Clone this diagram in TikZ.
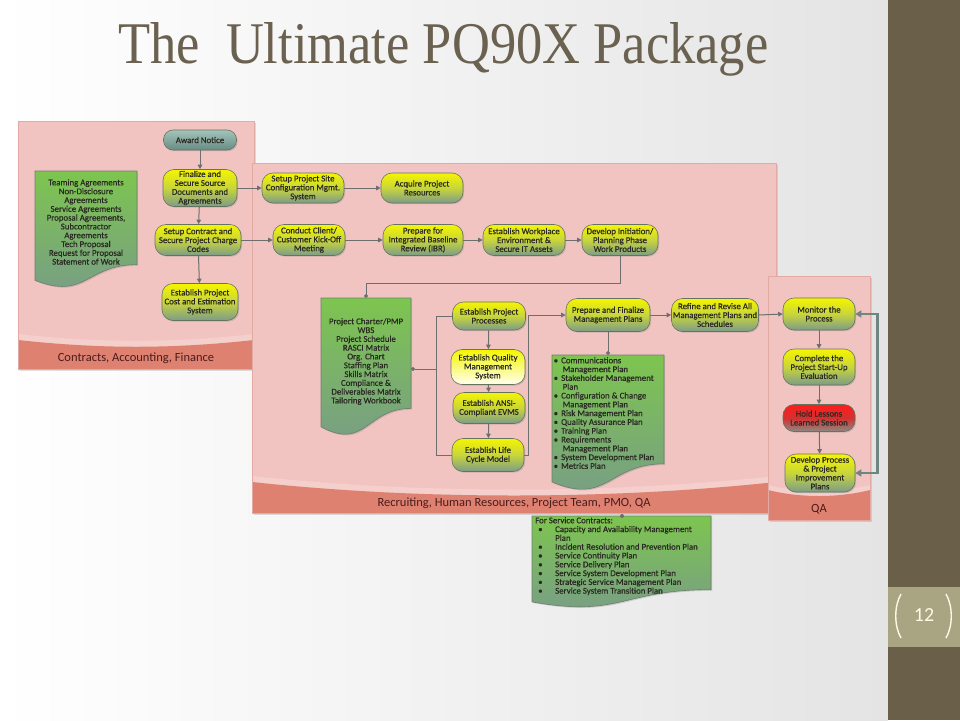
\documentclass[tikz,border=0pt]{standalone}
\usepackage{graphicx}
\usepackage{fontspec}
\setmainfont{Carlito}
\newfontfamily\nodefont{Carlito}[FakeBold=0.6]
\newfontfamily\titlefont{Liberation Serif}
\usetikzlibrary{arrows.meta,shadows}
\definecolor{bgR}{HTML}{E4E4E4}
\definecolor{side}{HTML}{6A5F48}
\definecolor{khaki}{HTML}{A9A583}
\definecolor{cream}{HTML}{FFF9E3}
\definecolor{titlec}{HTML}{6B6150}
\definecolor{panelc}{HTML}{F1C4C1}
\definecolor{panelbd}{HTML}{E2AAA5}
\definecolor{panellt}{HTML}{F4CFCB}
\definecolor{bandc}{HTML}{DE8171}
\definecolor{bandtxt}{HTML}{4A1C1C}
\definecolor{ytop}{HTML}{F5F500}
\definecolor{ymid}{HTML}{C8D53C}
\definecolor{ybot}{HTML}{7C9C88}
\definecolor{qbot}{HTML}{FFFFF2}
\definecolor{awt}{HTML}{A3C4BA}
\definecolor{awb}{HTML}{6A8B84}
\definecolor{rtop}{HTML}{FF1C1C}
\definecolor{rmid}{HTML}{D43030}
\definecolor{rbot}{HTML}{8A8A84}
\definecolor{nodebd}{HTML}{65735F}
\definecolor{gtop}{HTML}{7DC54F}
\definecolor{gbot}{HTML}{789C88}
\definecolor{docbd}{HTML}{6C7F6C}
\definecolor{linec}{HTML}{6E6E6E}
\definecolor{loopc}{HTML}{6E8580}
\definecolor{txt}{HTML}{2A2A22}
\newcommand\bitem[1]{\makebox[7.5pt][l]{\textbullet}#1}
\newcommand\bcont[1]{\hspace*{9pt}#1}
\newcommand\sitem[1]{\makebox[20pt][l]{\hspace*{3pt}\textbullet}#1}
\newcommand\scont[1]{\hspace*{20pt}#1}
\begin{document}
\begin{tikzpicture}[x=1pt,y=-1pt,
  nodebase/.style={rectangle, rounded corners=11pt, draw=nodebd, line width=0.6pt,
    align=center, text=txt, font=\nodefont\fontsize{8.8}{8.9}\selectfont, inner sep=0pt,
    drop shadow={shadow xshift=1.2pt, shadow yshift=-1.2pt, opacity=0.3}},
  ynode/.style={nodebase, top color=ytop, bottom color=ybot, middle color=ymid},
  qnode/.style={nodebase, top color=ytop, bottom color=qbot},
  awnode/.style={nodebase, top color=awt, bottom color=awb},
  rnode/.style={nodebase, top color=rtop, bottom color=rbot, middle color=rmid},
  docshape/.style={draw=docbd, line width=0.6pt, top color=gtop, bottom color=gbot,
    drop shadow={shadow xshift=1.2pt, shadow yshift=-1.2pt, opacity=0.3}},
  doctext/.style={align=center, text=txt, font=\nodefont\fontsize{8.8}{8.8}\selectfont, inner sep=0pt},
  listtext/.style={align=left, text=txt, font=\nodefont\fontsize{8.8}{8.8}\selectfont, inner sep=0pt, anchor=north west},
  panelfill/.style={fill=panelc, drop shadow={shadow xshift=2pt, shadow yshift=-2pt, opacity=0.25}},
  panelline/.style={draw=panelbd, line width=0.6pt},
  bandtext/.style={text=bandtxt, font=\fontsize{12.5}{13}\selectfont, inner sep=0pt},
  conn/.style={draw=linec, line width=1pt, -{Triangle[length=4.5pt,width=4.5pt]}},
  connline/.style={draw=linec, line width=1pt},
  dotend/.style={draw=linec, line width=1pt, -{Circle[length=4pt]}},
  fbloop/.style={draw=loopc, line width=2.6pt, {Triangle[length=6pt,width=7pt]}-{Triangle[length=6pt,width=7pt]}}
]
\useasboundingbox (0,0) rectangle (960,720);
% background
\shade[left color=white, right color=bgR] (0,0) rectangle (888,720);
\fill[side] (888,0) rectangle (960,720);
\fill[khaki] (888,587) rectangle (960,647);
\draw[cream, line width=1.4pt] (901,594) .. controls (894,606) and (894,626) .. (901,638);
\draw[cream, line width=1.4pt] (946,594) .. controls (953,606) and (953,626) .. (946,638);
\node[text=cream, font=\fontsize{20}{20}\selectfont, inner sep=0pt] (pnum) at (924,615) {12};
% title
\node[anchor=base west, inner sep=0pt, text=titlec] (title) at (118,63)
  {\resizebox{650pt}{41pt}{\titlefont The\ \ Ultimate PQ90X Package}};

% panel 1
\fill[panelfill] (18,121) rectangle (254,369);
\fill[panellt] (18,334) .. controls (100,343) and (172,343) .. (254,334) -- (254,369) -- (18,369) -- cycle;
\fill[bandc] (18,340) .. controls (100,349) and (172,349) .. (254,340) -- (254,369) -- (18,369) -- cycle;
\draw[panelline] (18,121) rectangle (254,369);
\node[bandtext] (t1) at (136,358) {Contracts, Accounting, Finance};

% panel 2
\fill[panelfill] (252,163) rectangle (776,513);
\fill[panellt] (252,476) .. controls (420,494) and (608,494) .. (776,476) -- (776,513) -- (252,513) -- cycle;
\fill[bandc] (252,482) .. controls (420,500) and (608,500) .. (776,482) -- (776,513) -- (252,513) -- cycle;
\draw[panelline] (252,163) rectangle (776,513);
\node[bandtext] (t2) at (514,503) {Recruiting, Human Resources, Project Team, PMO, QA};

% panel 3
\fill[panelfill] (768,276) rectangle (870,520);
\fill[panellt] (768,485) .. controls (800,493) and (838,493) .. (870,485) -- (870,520) -- (768,520) -- cycle;
\fill[bandc] (768,490) .. controls (800,498) and (838,498) .. (870,490) -- (870,520) -- (768,520) -- cycle;
\draw[panelline] (768,276) rectangle (870,520);
\node[bandtext] (t3) at (819,509) {QA};

% documents
\draw[docshape] (35,171) -- (137,171) -- (137,264.6) .. controls (86,264.6) and (86,300.5) .. (35,280.3) -- cycle;
\node[doctext] (ldocx) at (86,222) {Teaming Agreements\\Non-Disclosure\\Agreements\\Service Agreements\\Proposal Agreements,\\Subcontractor\\Agreements\\Tech Proposal\\Request for Proposal\\Statement of Work};

\draw[docshape] (321,298) -- (411,298) -- (411,408.4) .. controls (366,408.4) and (366,450.8) .. (321,426.9) -- cycle;
\coordinate (pdocT) at (366,298);
\coordinate (pdocR) at (411,369);
\node[doctext] (pdocx) at (366,361.5) {Project Charter/PMP\\WBS\\Project Schedule\\RASCI Matrix\\Org. Chart\\Staffing Plan\\Skills Matrix\\Compliance \&\\Deliverables Matrix\\Tailoring Workbook};

\draw[docshape] (552,355) -- (664,355) -- (664,463.8) .. controls (608,463.8) and (608,505.5) .. (552,482) -- cycle;
\coordinate (mdocT) at (608,355);
\node[listtext] (mdocx) at (553.5,357) {\bitem{Communications}\\\bcont{Management Plan}\\\bitem{Stakeholder Management}\\\bcont{Plan}\\\bitem{Configuration \& Change}\\\bcont{Management Plan}\\\bitem{Risk Management Plan}\\\bitem{Quality Assurance Plan}\\\bitem{Training Plan}\\\bitem{Requirements}\\\bcont{Management Plan}\\\bitem{System Development Plan}\\\bitem{Metrics Plan}};

\draw[docshape] (532,516) -- (711,516) -- (711,589.6) .. controls (621.5,589.6) and (621.5,617.8) .. (532,601.9) -- cycle;
\coordinate (sdocT) at (622,516);
\node[listtext] (sdocx) at (535,517) {For Service Contracts:\\\sitem{Capacity and Availability Management}\\\scont{Plan}\\\sitem{Incident Resolution and Prevention Plan}\\\sitem{Service Continuity Plan}\\\sitem{Service Delivery Plan}\\\sitem{Service System Development Plan}\\\sitem{Strategic Service Management Plan}\\\sitem{Service System Transition Plan}};
\fill[linec] (sdocT) circle (2pt);

% nodes, left panel
\node[awnode, minimum width=73pt, minimum height=20pt, rounded corners=9.5pt] (award) at (200,140) {Award Notice};
\node[ynode, minimum width=74pt, minimum height=37pt] (fin) at (200,188) {Finalize and\\Secure Source\\Documents and\\Agreements};
\node[ynode, minimum width=86pt, minimum height=31pt] (setc) at (198,240) {Setup Contract and\\Secure Project Charge\\Codes};
\node[ynode, minimum width=76pt, minimum height=37pt] (estc) at (200,302) {Establish Project\\Cost and Estimation\\System};
% middle panel
\node[ynode, minimum width=82pt, minimum height=30pt] (site) at (303,188) {Setup Project Site\\Configuration Mgmt.\\System};
\node[ynode, minimum width=82pt, minimum height=30pt] (acq) at (422,188) {Acquire Project\\Resources};
\node[ynode, minimum width=72pt, minimum height=31pt] (kick) at (309,240) {Conduct Client/\\Customer Kick-Off\\Meeting};
\node[ynode, minimum width=80pt, minimum height=31pt] (ibr) at (423,240) {Prepare for\\Integrated Baseline\\Review (IBR)};
\node[ynode, minimum width=82pt, minimum height=31pt] (work) at (524,240) {Establish Workplace\\Environment \&\\Secure IT Assets};
\node[ynode, minimum width=76pt, minimum height=31pt] (dev) at (620,240) {Develop Initiation/\\Planning Phase\\Work Products};
\node[ynode, minimum width=73pt, minimum height=28pt] (pproc) at (489,316) {Establish Project\\Processes};
\node[qnode, minimum width=74pt, minimum height=35pt] (qms) at (488,367) {Establish Quality\\Management\\System};
\node[ynode, minimum width=72pt, minimum height=31pt] (evms) at (489,408) {Establish ANSI-\\Compliant EVMS};
\node[ynode, minimum width=72pt, minimum height=33pt] (lcm) at (488,455) {Establish Life\\Cycle Model};
\node[ynode, minimum width=84pt, minimum height=33pt] (prep) at (608,315) {Prepare and Finalize\\Management Plans};
\node[ynode, minimum width=87pt, minimum height=33pt] (refn) at (715,315) {Refine and Revise All\\Management Plans and\\Schedules};
% QA panel
\node[ynode, minimum width=72pt, minimum height=32pt] (mon) at (819,314) {Monitor the\\Process};
\node[ynode, minimum width=72pt, minimum height=36pt] (comp) at (819,367) {Complete the\\Project Start-Up\\Evaluation};
\node[rnode, minimum width=72pt, minimum height=27pt] (hold) at (819,418) {Hold Lessons\\Learned Session};
\node[ynode, minimum width=70pt, minimum height=38pt] (impr) at (820,473) {Develop Process\\\& Project\\Improvement\\Plans};

% connectors
\draw[conn] (award) -- (fin);
\draw[conn] (fin) -- (setc);
\draw[conn] (setc) -- (estc);
\draw[conn] (fin.east) -- (site.west);
\draw[conn] (site) -- (acq);
\draw[conn] (setc.east) -- (kick.west);
\draw[conn] (kick) -- (ibr);
\draw[conn] (ibr) -- (work);
\draw[conn] (work) -- (dev);
\draw[dotend] (dev.south) -- ++(0,28) -| (pdocT);
\coordinate (busT) at (436,316);
\coordinate (busB) at (436,455);
\coordinate (busM) at (436,369);
\draw[connline] (pproc.west) -- (busT) -- (busB) -- (lcm.west);
\draw[dotend] (busM) -- (pdocR);
\draw[conn] (pproc) -- (qms);
\draw[conn] (qms) -- (evms);
\draw[conn] (evms) -- (lcm);
\draw[conn] (lcm.east) -- ++(4,0) |- (prep.west);
\draw[conn] (prep) -- (refn);
\draw[dotend] (prep.south) -- (mdocT);
\draw[conn] (refn.east) -- (mon.west);
\draw[conn] (mon) -- (comp);
\draw[conn] (comp) -- (hold);
\draw[conn] (hold) -- (impr);
\draw[fbloop] (mon.east) -- ++(22,0) |- (impr.east);
\end{tikzpicture}
\end{document}
